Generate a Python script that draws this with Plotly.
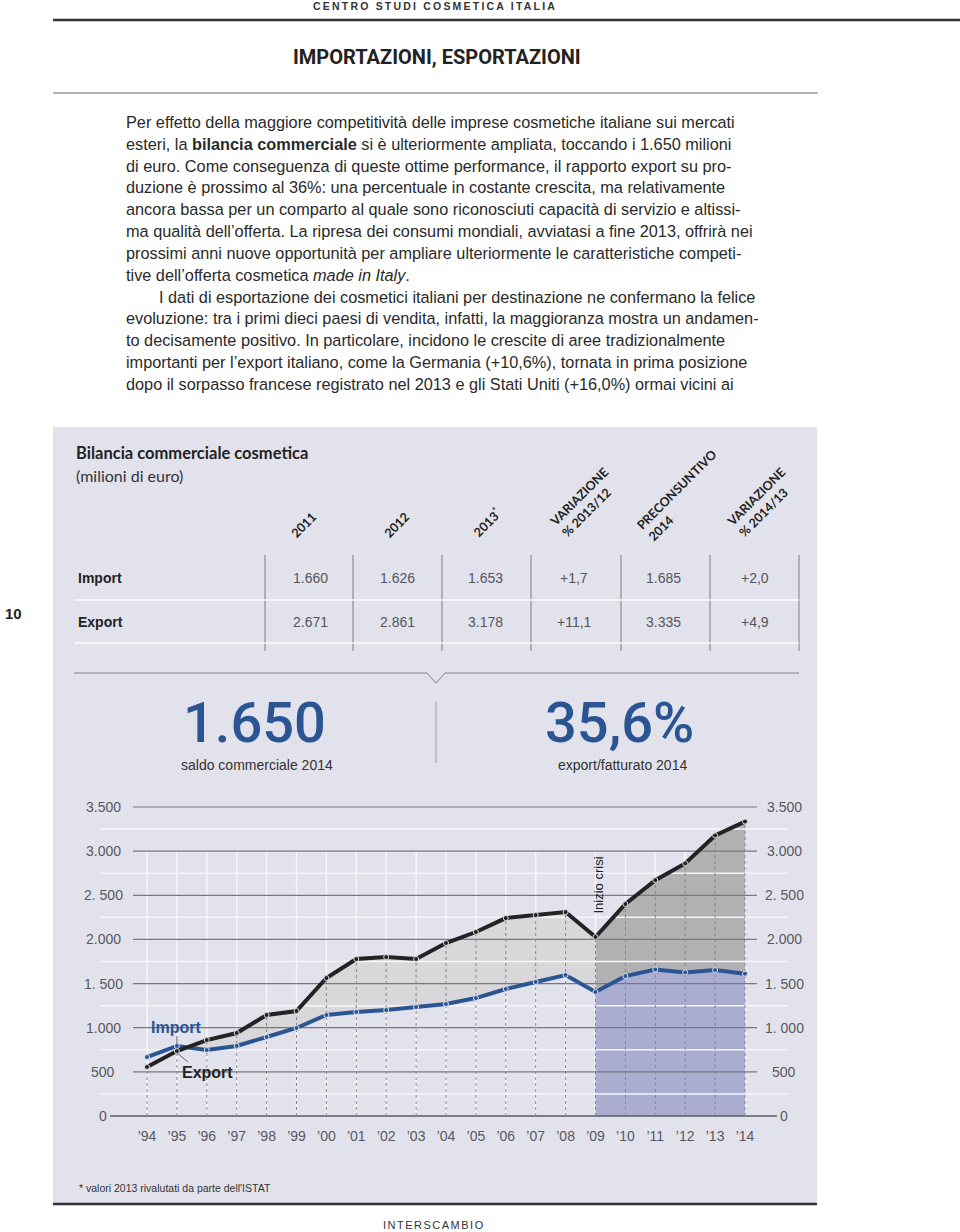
import plotly.graph_objects as go

W, H = 960, 1232
def px(x): return x / W
def py(y): return 1 - y / H

# ---------------- data ----------------
years = list(range(1994, 2015))
year_labels = ["’94", "’95", "’96", "’97", "’98", "’99", "’00", "’01", "’02", "’03", "’04",
               "’05", "’06", "’07", "’08", "’09", "’10", "’11", "’12", "’13", "’14"]
export_vals = [555, 736, 860, 940, 1144, 1189, 1563, 1778, 1800, 1778, 1959,
               2084, 2242, 2276, 2310, 2027, 2401, 2671, 2861, 3178, 3335]
import_vals = [668, 793, 747, 793, 895, 997, 1144, 1178, 1200, 1234, 1268,
               1336, 1438, 1518, 1597, 1404, 1585, 1660, 1626, 1653, 1612]

y_major = [500, 1000, 1500, 2000, 2500, 3000, 3500]
y_minor = [250, 750, 1250, 1750, 2250, 2750, 3250]
y_label_vals = [0, 500, 1000, 1500, 2000, 2500, 3000, 3500]
left_labels = ["0", "500", "1.000", "1. 500", "2.000", "2. 500", "3.000", "3.500"]
right_labels = ["0", "500", "1. 000", "1. 500", "2.000", "2. 500", "3.000", "3.500"]

table_cols = ["2011", "2012", "2013<sup>*</sup>", "VARIAZIONE<br>% 2013/12",
              "PRECONSUNTIVO<br>2014", "VARIAZIONE<br>% 2014/13"]
row_names = ["Import", "Export"]
import_row = ["1.660", "1.626", "1.653", "+1,7", "1.685", "+2,0"]
export_row = ["2.671", "2.861", "3.178", "+11,1", "3.335", "+4,9"]

kpi_values = ["1.650", "35,6%"]
kpi_labels = ["saldo commerciale 2014", "export/fatturato 2014"]

paragraph = [
    "Per effetto della maggiore competitività delle imprese cosmetiche italiane sui mercati",
    "esteri, la <b>bilancia commerciale</b> si è ulteriormente ampliata, toccando i 1.650 milioni",
    "di euro. Come conseguenza di queste ottime performance, il rapporto export su pro-",
    "duzione è prossimo al 36%: una percentuale in costante crescita, ma relativamente",
    "ancora bassa per un comparto al quale sono riconosciuti capacità di servizio e altissi-",
    "ma qualità dell’offerta. La ripresa dei consumi mondiali, avviatasi a fine 2013, offrirà nei",
    "prossimi anni nuove opportunità per ampliare ulteriormente le caratteristiche competi-",
    "tive dell’offerta cosmetica <i>made in Italy</i>.",
    "I dati di esportazione dei cosmetici italiani per destinazione ne confermano la felice",
    "evoluzione: tra i primi dieci paesi di vendita, infatti, la maggioranza mostra un andamen-",
    "to decisamente positivo. In particolare, incidono le crescite di aree tradizionalmente",
    "importanti per l’export italiano, come la Germania (+10,6%), tornata in prima posizione",
    "dopo il sorpasso francese registrato nel 2013 e gli Stati Uniti (+16,0%) ormai vicini ai",
]

# ---------------- geometry ----------------
X94, X14 = 147, 745
ppy = (X14 - X94) / 20.0
XL, XR = 100, 788
x_range = [1994 - (X94 - XL) / ppy, 2014 + (XR - X14) / ppy]
Y0, Y3500 = 1116, 807
ppu = (Y0 - Y3500) / 3500.0
YMIN, YMAX = -40, 3520
yb_px = Y0 - YMIN * ppu
yt_px = Y3500 - (YMAX - 3500) * ppu
def xdat(p): return 1994 + (p - X94) / ppy

BLUE = "#2b5592"
DARK = "#232325"
PANEL = "#e2e2ed"
FONT = "Liberation Sans"

fig = go.Figure()
skip = dict(hoverinfo="skip", showlegend=False)

# white vertical grid
vx, vy = [], []
for yr in years:
    vx += [yr, yr, None]
    vy += [0, 3000, None]
fig.add_trace(go.Scatter(x=vx, y=vy, mode="lines", line=dict(color="#f6f6fa", width=1.5), **skip))

i09 = years.index(2009)
# post-crisis fills
fig.add_trace(go.Scatter(x=years[i09:], y=import_vals[i09:], mode="lines", line=dict(width=0),
                         fill="tozeroy", fillcolor="#aaadd0", **skip))
fig.add_trace(go.Scatter(x=years[i09:], y=export_vals[i09:], mode="lines", line=dict(width=0),
                         fill="tonexty", fillcolor="#b1b1b3", **skip))
# pre-crisis fill between lines
fig.add_trace(go.Scatter(x=years[1:i09 + 1], y=import_vals[1:i09 + 1], mode="lines",
                         line=dict(width=0), **skip))
fig.add_trace(go.Scatter(x=years[1:i09 + 1], y=export_vals[1:i09 + 1], mode="lines",
                         line=dict(width=0), fill="tonexty", fillcolor="#d8d8da", **skip))

# white minor horizontal lines
hx, hy = [], []
for v in y_minor:
    hx += [x_range[0], x_range[1], None]
    hy += [v, v, None]
fig.add_trace(go.Scatter(x=hx, y=hy, mode="lines", line=dict(color="#f6f6fa", width=1.5), **skip))
# dark major lines
mx, my = [], []
for v in y_major:
    mx += [xdat(133), xdat(757), None]
    my += [v, v, None]
fig.add_trace(go.Scatter(x=mx, y=my, mode="lines", line=dict(color="#78787f", width=1.2), **skip))
fig.add_trace(go.Scatter(x=[xdat(110), xdat(777)], y=[0, 0], mode="lines",
                         line=dict(color="#5a5a60", width=1.5), **skip))
# gray verticals from points to baseline
gx, gy = [], []
for yr, v in zip(years, export_vals):
    gx += [yr, yr, None]
    gy += [0, v, None]
fig.add_trace(go.Scatter(x=gx, y=gy, mode="lines",
                         line=dict(color="#85858c", width=1, dash="dot"), **skip))

# data lines
fig.add_trace(go.Scatter(x=years, y=import_vals, mode="lines+markers",
                         line=dict(color=BLUE, width=4),
                         marker=dict(size=5, color=BLUE, line=dict(color="#dfe3ef", width=1)), **skip))
fig.add_trace(go.Scatter(x=years, y=export_vals, mode="lines+markers",
                         line=dict(color=DARK, width=4),
                         marker=dict(size=5, color=DARK, line=dict(color="#d8d8d8", width=1)), **skip))

ann = []
def A(x, y, text, size, color="#222", xanchor="center", yanchor="middle", family=FONT,
      xref="paper", yref="paper", angle=0, align="center", weight=None):
    f = dict(family=family, size=size, color=color)
    if weight:
        f["weight"] = weight
    ann.append(dict(x=x, y=y, xref=xref, yref=yref, text=text, showarrow=False,
                    xanchor=xanchor, yanchor=yanchor, font=f, textangle=angle, align=align))

# y tick labels
for v, l, r in zip(y_label_vals, left_labels, right_labels):
    A(px(103), v, l, 14, "#58585e", yref="y")
    A(px(784), v, r, 14, "#58585e", yref="y")

# chart labels
A(xdat(176), (Y0 - 1027) / ppu, "<b>Import</b>", 16, BLUE, xref="x", yref="y")
A(xdat(207), (Y0 - 1072) / ppu, "<b>Export</b>", 16, DARK, xref="x", yref="y")
A(2009.1, (Y0 - 885) / ppu, "Inizio crisi", 13, "#222", xref="x", yref="y", angle=-90)

shapes = []
def L(x0, y0, x1, y1, color, width, xref="paper", yref="paper", dash="solid"):
    shapes.append(dict(type="line", x0=x0, y0=y0, x1=x1, y1=y1, xref=xref, yref=yref,
                       line=dict(color=color, width=width, dash=dash), layer="above"))

# leader lines
L(years[1], import_vals[1] + 20, years[1], (Y0 - 1036) / ppu, "#666", 1, "x", "y")
L(years[1], export_vals[1] - 20, xdat(188), (Y0 - 1062) / ppu, "#666", 1, "x", "y")

# panel background
shapes.append(dict(type="rect", x0=px(53), x1=px(817), y0=py(1204), y1=py(427), xref="paper",
                   yref="paper", fillcolor=PANEL, line=dict(width=0), layer="below"))
L(px(53), py(1204), px(817), py(1204), "#333", 2.5)
# header lines
L(px(53), py(20), px(960), py(20), "#333", 2.5)
L(px(53), py(93), px(818), py(93), "#b4b4b4", 2)

# table grid
for xs in [265, 353, 442, 531, 621, 710, 799]:
    L(px(xs), py(555), px(xs), py(651), "#7c7c84", 1)
for ys in [600, 643]:
    L(px(74), py(ys), px(799), py(ys), "#fafafd", 1.5)
shapes.append(dict(type="path", xref="paper", yref="paper",
                   path=f"M {px(74)},{py(673)} L {px(427)},{py(673)} L {px(436)},{py(683)} "
                        f"L {px(445)},{py(673)} L {px(799)},{py(673)}",
                   line=dict(color="#808088", width=1)))
L(px(436), py(702), px(436), py(763), "#9a9aa2", 1)

# texts: header
A(px(435), py(6), '<b><span style="letter-spacing:2.2px">CENTRO STUDI COSMETICA ITALIA</span></b>',
  10.5, "#333")
A(px(437), py(57), "<b>IMPORTAZIONI, ESPORTAZIONI</b>", 20, "#222", family="Roboto", weight=900)
for i, line in enumerate(paragraph):
    x0 = 157 if i == 8 else 124
    A(px(x0), py(122 + i * 21.83), line, 16.3, "#2a2a2a", xanchor="left")

A(px(13), py(613), "<b>10</b>", 15, "#222")

# table texts
A(px(74), py(453), "<b>Bilancia commerciale cosmetica</b>", 16.5, "#222", xanchor="left", family="Lato")
A(px(74), py(475), "(milioni di euro)", 16, "#333", xanchor="left", family="Lato")
col_cx = [303, 396, 486, 585, 682, 762]
col_cy = [525, 525, 522, 503, 495, 503]
for t, cx, cy in zip(table_cols, col_cx, col_cy):
    A(px(cx), py(cy), f"<b>{t}</b>", 12.5, "#222", angle=-45, align="left", family="Lato")
val_cx = [310, 397, 485, 574, 663, 755]
for name, row, ry in zip(row_names, [import_row, export_row], [578, 622]):
    A(px(76), py(ry), f"<b>{name}</b>", 14, "#222", xanchor="left")
    for v, cx in zip(row, val_cx):
        A(px(cx), py(ry), v, 14, "#55555b")

# KPI
for v, lab, cx in zip(kpi_values, kpi_labels, [254, 619]):
    A(px(cx), py(723), v, 56, BLUE, family="Roboto", weight=500)
    A(px(cx + 3), py(765), lab, 14, "#333")

A(px(77), py(1188), "* valori 2013 rivalutati da parte dell'ISTAT", 10.5, "#333", xanchor="left")
A(px(434), py(1225), '<span style="letter-spacing:1.5px">INTERSCAMBIO</span>', 11, "#333")

fig.update_layout(
    width=W, height=H, margin=dict(l=0, r=0, t=0, b=0),
    paper_bgcolor="white", plot_bgcolor="rgba(0,0,0,0)",
    showlegend=False, hovermode=False,
    annotations=ann, shapes=shapes,
    xaxis=dict(domain=[px(XL), px(XR)], range=x_range, tickvals=years, ticktext=year_labels,
               tickfont=dict(family=FONT, size=14, color="#58585e"), showgrid=False,
               zeroline=False, showline=False, ticks="", ticklabelstandoff=6, fixedrange=True),
    yaxis=dict(domain=[py(yb_px), py(yt_px)], range=[YMIN, YMAX], visible=False,
               showgrid=False, zeroline=False, fixedrange=True),
)

fig.write_html("out.html")
